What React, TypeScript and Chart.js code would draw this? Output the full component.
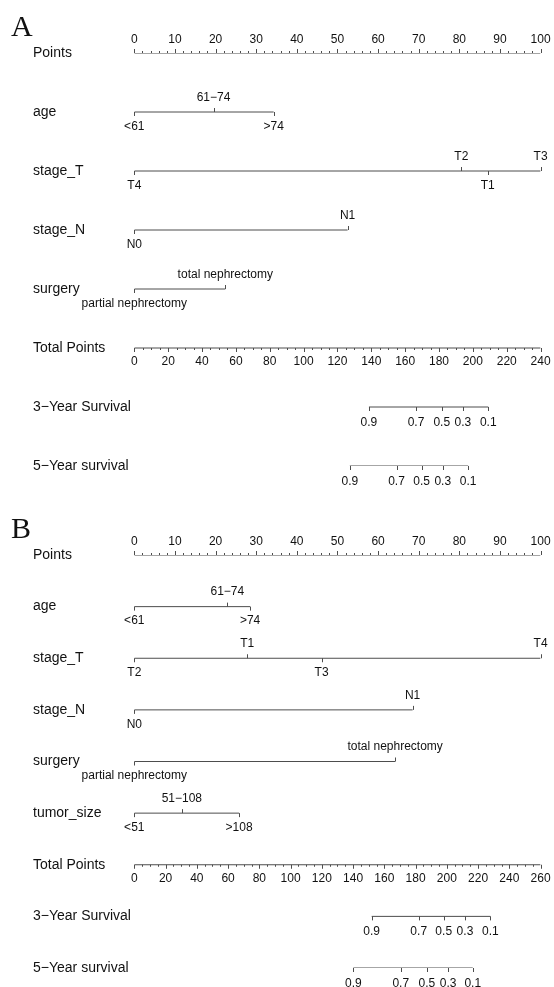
import React, { useEffect, useRef } from "react";
import { Chart, registerables } from "chart.js";

Chart.register(...registerables);

// ---------- shared ----------
const pointsTickLabels = [0, 10, 20, 30, 40, 50, 60, 70, 80, 90, 100];
const survivalLevels = ["0.9", "0.7", "0.5", "0.3", "0.1"];

// ---------- Panel A ----------
const aAgeLevels = ["<61", "61−74", ">74"];
const aAgePoints = [0, 19.5, 34.3];
const aStageTLevels = ["T4", "T2", "T1", "T3"];
const aStageTPoints = [0, 80.5, 87.0, 100];
const aStageNLevels = ["N0", "N1"];
const aStageNPoints = [0, 52.5];
const aSurgeryLevels = ["partial nephrectomy", "total nephrectomy"];
const aSurgeryPoints = [0, 22.4];
const aTotalTickLabels = [0, 20, 40, 60, 80, 100, 120, 140, 160, 180, 200, 220, 240];
const aSurv3Total = [138.6, 166.4, 181.6, 194.1, 209.1];
const aSurv5Total = [127.3, 154.9, 169.7, 182.2, 197.2];

// ---------- Panel B ----------
const bAgeLevels = ["<61", "61−74", ">74"];
const bAgePoints = [0, 22.9, 28.5];
const bStageTLevels = ["T2", "T1", "T3", "T4"];
const bStageTPoints = [0, 27.8, 46.1, 100];
const bStageNLevels = ["N0", "N1"];
const bStageNPoints = [0, 68.5];
const bSurgeryLevels = ["partial nephrectomy", "total nephrectomy"];
const bSurgeryPoints = [0, 64.2];
const bTumorLevels = ["<51", "51−108", ">108"];
const bTumorPoints = [0, 11.7, 25.8];
const bTotalTickLabels = [0, 20, 40, 60, 80, 100, 120, 140, 160, 180, 200, 220, 240, 260];
const bSurv3Total = [151.9, 182.0, 198.0, 211.6, 227.9];
const bSurv5Total = [140.2, 170.5, 187.2, 200.8, 216.6];

type Row =
  | { kind: "points"; name: string }
  | { kind: "var"; name: string; levels: string[]; values: number[] }
  | { kind: "total"; name: string; ticks: number[] }
  | { kind: "surv"; name: string; levels: string[]; values: number[] };

type Panel = {
  letter: string;
  rows: Row[];
  totalMax: number;
  height: number;
  top: number;
  padTop: number;
  padBottom: number;
};

const panelA: Panel = {
  letter: "A",
  rows: [
    { kind: "points", name: "Points" },
    { kind: "var", name: "age", levels: aAgeLevels, values: aAgePoints },
    { kind: "var", name: "stage_T", levels: aStageTLevels, values: aStageTPoints },
    { kind: "var", name: "stage_N", levels: aStageNLevels, values: aStageNPoints },
    { kind: "var", name: "surgery", levels: aSurgeryLevels, values: aSurgeryPoints },
    { kind: "total", name: "Total Points", ticks: aTotalTickLabels },
    { kind: "surv", name: "3−Year Survival", levels: survivalLevels, values: aSurv3Total },
    { kind: "surv", name: "5−Year survival", levels: survivalLevels, values: aSurv5Total },
  ],
  totalMax: 240,
  height: 490,
  top: 0,
  padTop: 53,
  padBottom: 24,
};

const panelB: Panel = {
  letter: "B",
  rows: [
    { kind: "points", name: "Points" },
    { kind: "var", name: "age", levels: bAgeLevels, values: bAgePoints },
    { kind: "var", name: "stage_T", levels: bStageTLevels, values: bStageTPoints },
    { kind: "var", name: "stage_N", levels: bStageNLevels, values: bStageNPoints },
    { kind: "var", name: "surgery", levels: bSurgeryLevels, values: bSurgeryPoints },
    { kind: "var", name: "tumor_size", levels: bTumorLevels, values: bTumorPoints },
    { kind: "total", name: "Total Points", ticks: bTotalTickLabels },
    { kind: "surv", name: "3−Year Survival", levels: survivalLevels, values: bSurv3Total },
    { kind: "surv", name: "5−Year survival", levels: survivalLevels, values: bSurv5Total },
  ],
  totalMax: 260,
  height: 497,
  top: 490,
  padTop: 65,
  padBottom: 19,
};

const LINE = "#4d4d4d";
const TEXT = "#111111";
const SANS = '"Liberation Sans", Arial, Helvetica, sans-serif';
const SERIF = '"Liberation Serif", "Times New Roman", serif';

function buildDatasets(p: Panel) {
  return p.rows.map((r, i) => {
    let xs: number[];
    let axis = "x";
    if (r.kind === "points") xs = [pointsTickLabels[0], pointsTickLabels[pointsTickLabels.length - 1]];
    else if (r.kind === "total") {
      xs = [r.ticks[0], r.ticks[r.ticks.length - 1]];
      axis = "xt";
    } else if (r.kind === "surv") {
      xs = [Math.min(...r.values), Math.max(...r.values)];
      axis = "xt";
    } else xs = [Math.min(...r.values), Math.max(...r.values)];
    return {
      label: r.name,
      data: xs.map((x) => ({ x, y: i })),
      xAxisID: axis,
      yAxisID: "y",
      borderColor: LINE,
      borderWidth: 1,
      pointRadius: 0,
      fill: false,
      tension: 0,
    };
  });
}

function nomogramPlugin(p: Panel) {
  return {
    id: "nomogram" + p.letter,
    afterDatasetsDraw(chart: any) {
      const ctx: CanvasRenderingContext2D = chart.ctx;
      const xs = chart.scales.x;
      const xt = chart.scales.xt;
      const ys = chart.scales.y;
      ctx.save();
      ctx.strokeStyle = LINE;
      ctx.lineWidth = 1;
      ctx.fillStyle = TEXT;

      const tick = (x: number, y: number, len: number) => {
        const xx = Math.round(x) + 0.5;
        ctx.beginPath();
        ctx.moveTo(xx, y);
        ctx.lineTo(xx, y + len);
        ctx.stroke();
      };

      // panel letter
      ctx.font = `30px ${SERIF}`;
      ctx.textAlign = "left";
      ctx.textBaseline = "alphabetic";
      ctx.fillText(p.letter, 11, p.padTop - 17);

      p.rows.forEach((r, i) => {
        const y = ys.getPixelForValue(i);
        // row label
        ctx.font = `14px ${SANS}`;
        ctx.textAlign = "left";
        ctx.textBaseline = "middle";
        ctx.fillText(r.name, 33, y);

        ctx.font = `12px ${SANS}`;
        ctx.textAlign = "center";
        if (r.kind === "points") {
          const lo = pointsTickLabels[0];
          const hi = pointsTickLabels[pointsTickLabels.length - 1];
          for (let v = lo; v <= hi; v += 2) {
            const major = pointsTickLabels.includes(v);
            tick(xs.getPixelForValue(v), y, major ? -4 : -2);
          }
          pointsTickLabels.forEach((v) => {
            ctx.fillText(String(v), xs.getPixelForValue(v), y - 13);
          });
        } else if (r.kind === "var") {
          const order = r.values.map((v, k) => k).sort((a, b) => r.values[a] - r.values[b]);
          order.forEach((k, j) => {
            const dir = j % 2 === 0 ? 1 : -1;
            const x = xs.getPixelForValue(r.values[k]);
            tick(x, y, dir * 4);
            ctx.fillText(r.levels[k], x, y + dir * 14.5);
          });
        } else if (r.kind === "total") {
          const lo = r.ticks[0];
          const hi = r.ticks[r.ticks.length - 1];
          for (let v = lo; v <= hi; v += 5) {
            const major = r.ticks.includes(v);
            tick(xt.getPixelForValue(v), y, major ? 4 : 2);
          }
          r.ticks.forEach((v) => {
            ctx.fillText(String(v), xt.getPixelForValue(v), y + 13.5);
          });
        } else if (r.kind === "surv") {
          r.values.forEach((v, k) => {
            const x = xt.getPixelForValue(v);
            tick(x, y, 4);
            ctx.fillText(r.levels[k], x, y + 15.5);
          });
        }
      });
      ctx.restore();
    },
  };
}

function NomoPanel({ panel }: { panel: Panel }) {
  const ref = useRef<HTMLCanvasElement | null>(null);
  useEffect(() => {
    if (!ref.current) return;
    const chart = new Chart(ref.current, {
      type: "line",
      data: { datasets: buildDatasets(panel) as any },
      options: {
        animation: false,
        responsive: false,
        devicePixelRatio: 1,
        events: [],
        layout: {
          padding: { left: 134.3, right: 13.4, top: panel.padTop, bottom: panel.padBottom },
        },
        plugins: {
          legend: { display: false },
          tooltip: { enabled: false },
          title: { display: false },
        },
        scales: {
          x: { type: "linear", min: 0, max: 100, display: false },
          xt: { type: "linear", axis: "x", min: 0, max: panel.totalMax, display: false },
          y: { type: "linear", min: 0, max: panel.rows.length - 1, reverse: true, display: false },
        } as any,
      },
      plugins: [nomogramPlugin(panel) as any],
    });
    return () => chart.destroy();
  }, [panel]);
  return (
    <canvas
      ref={ref}
      width={554}
      height={panel.height}
      style={{ position: "absolute", left: 0, top: panel.top, width: 554, height: panel.height, display: "block" }}
    />
  );
}

export default function App() {
  return (
    <div style={{ position: "absolute", left: 0, top: 0, width: 554, height: 987, background: "#ffffff", overflow: "hidden" }}>
      <NomoPanel panel={panelA} />
      <NomoPanel panel={panelB} />
    </div>
  );
}
